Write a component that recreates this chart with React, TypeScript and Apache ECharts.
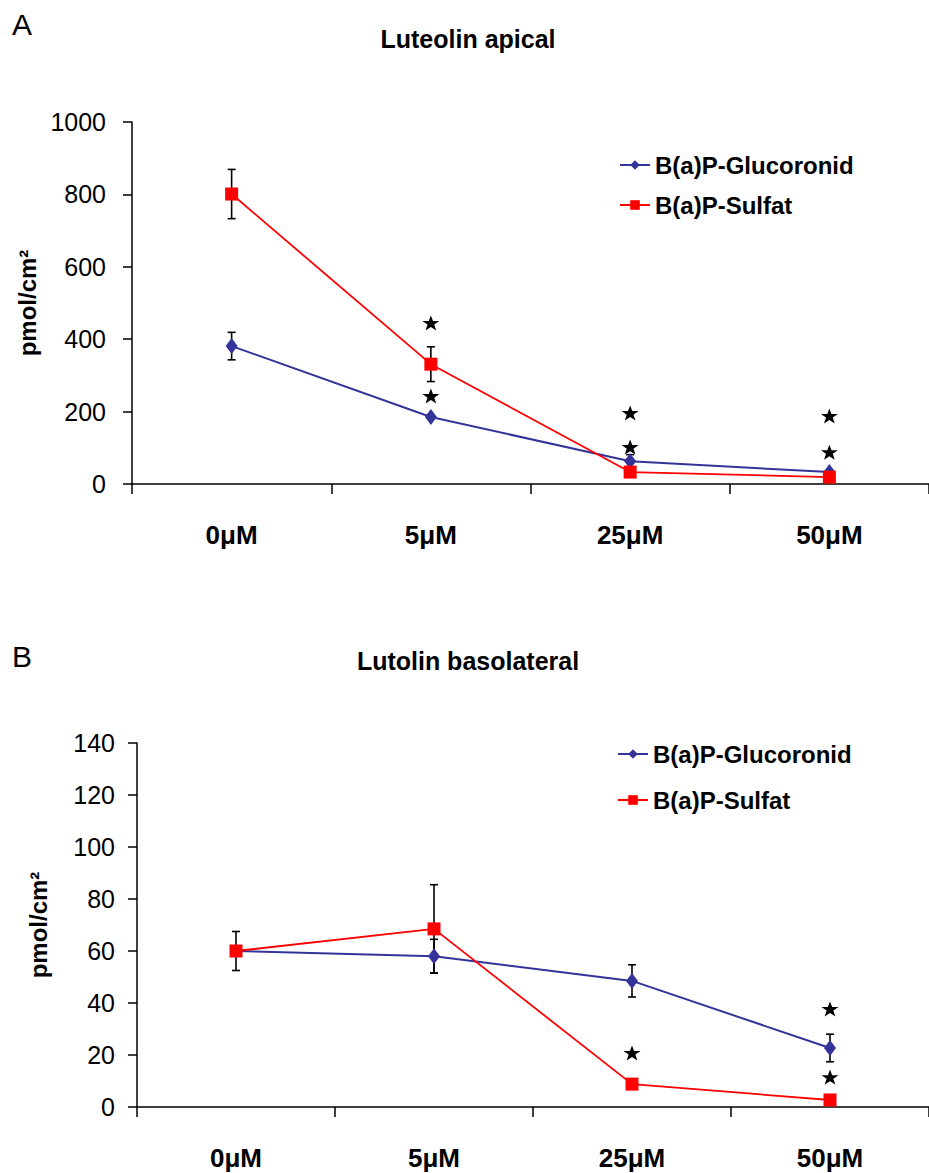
import React, { useEffect, useRef } from "react";
import * as echarts from "echarts";

const categories = ["0μM", "5μM", "25μM", "50μM"];
const seriesNames = ["B(a)P-Glucoronid", "B(a)P-Sulfat"];

const apicalGluc = [381, 185, 63, 33];
const apicalSulfat = [801, 331, 33, 19];
const apicalGlucErr = [38, 0, 18, 0];
const apicalSulfatErr = [68, 48, 0, 0];
const apicalStars = [[1, 445], [1, 243], [2, 196], [2, 102], [3, 188], [3, 88]];

const basoGluc = [60, 58, 48.5, 22.7];
const basoSulfat = [60, 68.5, 8.8, 2.7];
const basoGlucErr = [0, 6.5, 6.2, 5.3];
const basoSulfatErr = [7.5, 17, 0, 0];
const basoStars = [[2, 20.8], [3, 37.7], [3, 11.5]];

const FONT = "Liberation Sans";
const BLUE = "#333399";
const RED = "#ff0000";
const STAR =
  "path://M50,0 L62,34 L98,34 L69,56 L80,92 L50,71 L20,92 L31,56 L2,34 L38,34 Z";

function errData(vals: number[], errs: number[]) {
  const out: number[][] = [];
  vals.forEach((v, i) => {
    if (errs[i] > 0) out.push([i, v - errs[i], v + errs[i]]);
  });
  return out;
}

const errRender = (params: any, api: any) => {
  const x = api.value(0);
  const lo = api.coord([x, api.value(1)]);
  const hi = api.coord([x, api.value(2)]);
  const cw = 4;
  const style = { stroke: "#000", lineWidth: 1.6 };
  return {
    type: "group",
    children: [
      { type: "line", shape: { x1: hi[0], y1: hi[1], x2: lo[0], y2: lo[1] }, style },
      { type: "line", shape: { x1: hi[0] - cw, y1: hi[1], x2: hi[0] + cw, y2: hi[1] }, style },
      { type: "line", shape: { x1: lo[0] - cw, y1: lo[1], x2: lo[0] + cw, y2: lo[1] }, style },
    ],
  };
};

function makeAxes(gi: number, max: number, interval: number, labelMargin: number, nameGap: number) {
  const x = {
    type: "category",
    gridIndex: gi,
    data: categories,
    boundaryGap: true,
    axisLine: { show: true, lineStyle: { color: "#000", width: 1.5 } },
    axisTick: { show: true, alignWithLabel: false, length: 10, lineStyle: { color: "#000", width: 1.5 } },
    axisLabel: { color: "#000", fontFamily: FONT, fontSize: 26, fontWeight: "bold", margin: 38 },
    splitLine: { show: false },
  };
  const y = {
    type: "value",
    gridIndex: gi,
    min: 0,
    max,
    interval,
    name: "pmol/cm²",
    nameLocation: "middle",
    nameGap,
    nameTextStyle: { color: "#000", fontFamily: FONT, fontSize: 24, fontWeight: "bold" },
    axisLine: { show: true, lineStyle: { color: "#000", width: 1.5 } },
    axisTick: { show: true, length: 9, lineStyle: { color: "#000", width: 1.5 } },
    axisLabel: {
      color: "#000",
      fontFamily: FONT,
      fontSize: 25,
      margin: labelMargin,
      formatter: (v: number) => String(v),
    },
    splitLine: { show: false },
  };
  return { x, y };
}

function makeSeries(gi: number, gluc: number[], sulf: number[], gErr: number[], sErr: number[], stars: number[][]) {
  return [
    {
      type: "custom",
      xAxisIndex: gi,
      yAxisIndex: gi,
      renderItem: errRender,
      data: errData(gluc, gErr).concat(errData(sulf, sErr)),
      encode: { x: 0, y: [1, 2] },
      z: 1,
      silent: true,
    },
    {
      name: seriesNames[0],
      type: "line",
      xAxisIndex: gi,
      yAxisIndex: gi,
      data: gluc,
      symbol: "diamond",
      symbolSize: [12, 16],
      lineStyle: { color: BLUE, width: 2 },
      itemStyle: { color: BLUE },
      z: 3,
    },
    {
      name: seriesNames[1],
      type: "line",
      xAxisIndex: gi,
      yAxisIndex: gi,
      data: sulf,
      symbol: "rect",
      symbolSize: 13,
      lineStyle: { color: RED, width: 1.8 },
      itemStyle: { color: RED },
      z: 4,
    },
    {
      type: "scatter",
      xAxisIndex: gi,
      yAxisIndex: gi,
      data: stars,
      symbol: STAR,
      symbolSize: [17, 15],
      itemStyle: { color: "#000", opacity: 1 },
      z: 5,
      silent: true,
    },
  ];
}

export default function App() {
  const ref = useRef<HTMLDivElement>(null);
  useEffect(() => {
    document.body.style.margin = "0";
    const chart = echarts.init(ref.current!, undefined, { renderer: "svg" });
    const a = makeAxes(0, 1000, 200, 26, 90);
    const b = makeAxes(1, 140, 20, 22, 87);
    const legendBase = {
      orient: "vertical",
      data: seriesNames,
      itemWidth: 30,
      itemHeight: 12,
      textStyle: { color: "#000", fontFamily: FONT, fontSize: 24, fontWeight: "bold", lineHeight: 24 },
      selectedMode: false,
    };
    chart.setOption({
      animation: false,
      backgroundColor: "#fff",
      grid: [
        { left: 132, top: 122, width: 804, height: 362 },
        { left: 137, top: 743, width: 802, height: 364 },
      ],
      xAxis: [a.x, b.x],
      yAxis: [a.y, b.y],
      legend: [
        { ...legendBase, left: 614, top: 148, itemGap: 16 },
        { ...legendBase, left: 612, top: 737, itemGap: 22 },
      ],
      graphic: [
        { type: "text", left: 12, top: 9, style: { text: "A", fill: "#000", font: `30px ${FONT}` } },
        { type: "text", left: 12, top: 641, style: { text: "B", fill: "#000", font: `30px ${FONT}` } },
        {
          type: "text",
          x: 468,
          y: 26,
          style: { text: "Luteolin apical", fill: "#000", font: `bold 25px ${FONT}`, textAlign: "center" },
        },
        {
          type: "text",
          x: 468,
          y: 648,
          style: { text: "Lutolin basolateral", fill: "#000", font: `bold 25px ${FONT}`, textAlign: "center" },
        },
      ],
      series: [
        ...makeSeries(0, apicalGluc, apicalSulfat, apicalGlucErr, apicalSulfatErr, apicalStars),
        ...makeSeries(1, basoGluc, basoSulfat, basoGlucErr, basoSulfatErr, basoStars),
      ],
    });
    return () => chart.dispose();
  }, []);
  return <div ref={ref} style={{ width: 929, height: 1173 }} />;
}
